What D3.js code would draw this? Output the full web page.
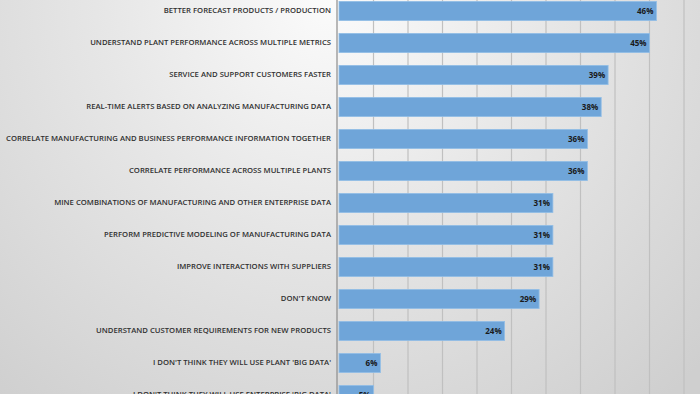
<!DOCTYPE html>
<html><head><meta charset="utf-8">
<script src="https://cdn.jsdelivr.net/npm/d3@7"></script>
<style>html,body{margin:0;padding:0;overflow:hidden;background:#ddd}</style>
</head><body>
<svg id="c" width="700" height="394"></svg>
<script>
const categories = [
  "BETTER FORECAST PRODUCTS / PRODUCTION",
  "UNDERSTAND PLANT PERFORMANCE ACROSS MULTIPLE METRICS",
  "SERVICE AND SUPPORT CUSTOMERS FASTER",
  "REAL-TIME ALERTS BASED ON ANALYZING MANUFACTURING DATA",
  "CORRELATE MANUFACTURING AND BUSINESS PERFORMANCE INFORMATION TOGETHER",
  "CORRELATE PERFORMANCE ACROSS MULTIPLE PLANTS",
  "MINE COMBINATIONS OF MANUFACTURING AND OTHER ENTERPRISE DATA",
  "PERFORM PREDICTIVE MODELING OF MANUFACTURING DATA",
  "IMPROVE INTERACTIONS WITH SUPPLIERS",
  "DON'T KNOW",
  "UNDERSTAND CUSTOMER REQUIREMENTS FOR NEW PRODUCTS",
  "I DON'T THINK THEY WILL USE PLANT 'BIG DATA'",
  "I DON'T THINK THEY WILL USE ENTERPRISE 'BIG DATA'"
];
const values = [0.46, 0.45, 0.39, 0.38, 0.36, 0.36, 0.31, 0.31, 0.31, 0.29, 0.24, 0.06, 0.05];
const gridTicks = [0.05, 0.10, 0.15, 0.20, 0.25, 0.30, 0.35, 0.40, 0.45, 0.50];

const svg = d3.select("#c");
const W = 700, H = 394;
const defs = svg.append("defs");
const rg = defs.append("radialGradient").attr("id","bg")
  .attr("gradientUnits","userSpaceOnUse").attr("cx",330).attr("cy",0).attr("r",520);
rg.append("stop").attr("offset",0).attr("stop-color","#fbfbfb");
rg.append("stop").attr("offset",0.45).attr("stop-color","#e6e6e6");
rg.append("stop").attr("offset",1).attr("stop-color","#cfcfcf");
svg.append("rect").attr("width",W).attr("height",H).attr("fill","url(#bg)");

const x = d3.scaleLinear().domain([0, 0.5]).range([339, 684]);
const y = d3.scaleBand().domain(categories).range([-5, -5 + 32*categories.length]).paddingInner(0.4).paddingOuter(0.2);

// gridlines
svg.append("g").selectAll("line").data(gridTicks).join("line")
  .attr("x1", d => x(d)).attr("x2", d => x(d))
  .attr("y1", 0).attr("y2", H)
  .attr("stroke", "#c0c0c0").attr("stroke-width", 1.2);

// bars
svg.append("g").selectAll("rect").data(values).join("rect")
  .attr("x", x(0))
  .attr("y", (d,i) => y(categories[i]))
  .attr("width", d => x(d) - x(0))
  .attr("height", y.bandwidth())
  .attr("fill", "#6fa5d9")
  .attr("stroke", "#93bfe6").attr("stroke-width", 0.8);

// value labels
svg.append("g").selectAll("text").data(values).join("text")
  .attr("x", d => x(d) - 3)
  .attr("y", (d,i) => y(categories[i]) + y.bandwidth()/2)
  .attr("dy", "0.35em")
  .attr("text-anchor", "end")
  .attr("font-family", "'Open Sans', sans-serif")
  .attr("font-size", 8).attr("font-weight", 700)
  .attr("fill", "#1a1a1a")
  .text(d => d3.format(".0%")(d));

// axis
const ax = svg.append("g").attr("transform", `translate(${x(0)-2},0)`)
  .call(d3.axisLeft(y).tickSize(0).tickPadding(6));
ax.select(".domain").attr("stroke", "#8c8c8c").attr("stroke-width", 1.2).attr("d", `M0,0V${H}`);
ax.selectAll("text")
  .attr("font-family", "'Open Sans', sans-serif")
  .attr("font-size", 7.7).attr("font-weight", 600)
  .attr("fill", "#303030");
</script>
</body></html>
